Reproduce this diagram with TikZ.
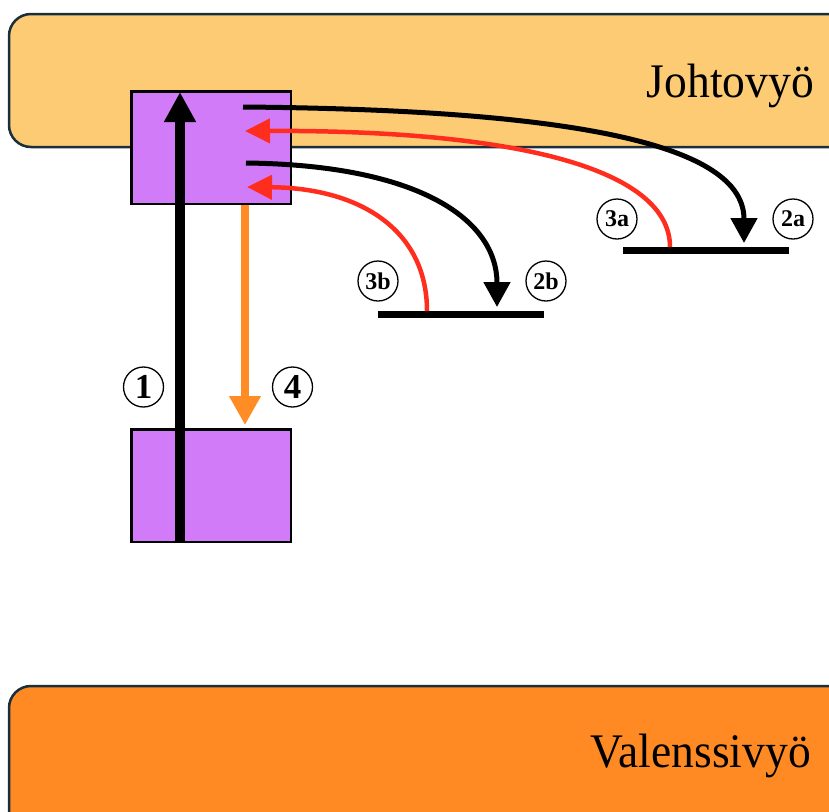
\documentclass[tikz,border=0pt]{standalone}
\usepackage{fontspec}
\usepackage{graphicx}
\setmainfont{Liberation Serif}
\usetikzlibrary{arrows.meta,calc}
\definecolor{cband}{HTML}{FDCB74}
\definecolor{vband}{HTML}{FF8A24}
\definecolor{bandedge}{HTML}{1B2E3C}
\definecolor{state}{HTML}{D17BF8}
\definecolor{relax}{HTML}{FF2D1E}
\definecolor{emit}{HTML}{FF8C24}
\newcommand{\tallish}[1]{\scalebox{1}[1.06]{#1}}
\begin{document}
\begin{tikzpicture}[x=1pt,y=-1pt,
  band/.style={draw=bandedge, line width=2.5pt, rounded corners=22pt},
  statebox/.style={draw=black, line width=2.5pt, fill=state, inner sep=0pt,
    minimum width=159.5pt, minimum height=112.5pt},
  trap/.style={line width=7pt},
  tag/.style={circle, draw, line width=1.3pt, inner sep=0pt, minimum size=40pt,
    font=\bfseries\fontsize{24}{24}\selectfont},
  bigtag/.style={tag, font=\bfseries\fontsize{35}{35}\selectfont},
  bandlabel/.style={anchor=base east, inner sep=0pt, font=\fontsize{45.5}{45}\selectfont},
  capture/.style={line width=5pt, -{Triangle[length=25pt,width=26pt]}},
  release/.style={draw=relax, line width=4.5pt, -{Triangle[length=25pt,width=24pt]}, color=relax},
]
\useasboundingbox (0,0) rectangle (829,811);

% conduction and valence bands, running past the right edge
\begin{scope}
  \clip (0,0) rectangle (829,811);
  \draw[band, fill=cband] (9,14) rectangle (870,147);
  \draw[band, fill=vband] (9,686) rectangle (870,850);
\end{scope}
\node[bandlabel] (cb) at (814,97) {\tallish{Johtovyö}};
\node[bandlabel] (vb) at (811,767) {\tallish{Valenssivyö}};

% excited and ground states
\node[statebox] (ub) at (211,147.5) {};
\node[statebox] (lb) at (211,485.5) {};

% trap levels
\coordinate (tbL) at (378,314);
\coordinate (tbR) at (544,314);
\coordinate (taL) at (623,250);
\coordinate (taR) at (789,250);
\draw[trap] (tbL) -- (tbR);
\draw[trap] (taL) -- (taR);

% 1: excitation, 4: emission
\coordinate (x1) at (180,0);
\coordinate (x4) at (245,0);
\draw[line width=10pt, -{Triangle[length=30pt,width=30pt]}]
  (x1 |- lb.south) -- ($(x1 |- ub.north)+(0,2)$);
\draw[emit, line width=8.5pt, -{Triangle[length=29pt,width=30pt]}]
  (x4 |- ub.south) -- ($(x4 |- lb.north)+(0,-3)$);

% 2a / 2b: trapping
\coordinate (s2a) at (243,107);
\coordinate (e2a) at (744,243);
\coordinate (s2b) at (246,163);
\coordinate (e2b) at (497,307);
\draw[capture] (s2a) .. controls (600,110) and (744,150) .. (e2a);
\draw[capture] (s2b) .. controls (420,165) and (497,220) .. (e2b);

% 3a / 3b: thermal release
\coordinate (s3a) at (670,247);
\coordinate (e3a) at (245,131);
\coordinate (s3b) at (427,311);
\coordinate (e3b) at (247,187);
\draw[release] (s3a) .. controls (670,170) and (520,130) .. (e3a);
\draw[release] (s3b) .. controls (427,230) and (360,188) .. (e3b);

% step labels
\node[bigtag] (n1) at (143.5,387) {1};
\node[bigtag] (n4) at (292.5,387) {4};
\node[tag] (n3b) at (378,281) {3b};
\node[tag] (n2b) at (546,281) {2b};
\node[tag] (n3a) at (617,219) {3a};
\node[tag] (n2a) at (793,219) {2a};
\end{tikzpicture}
\end{document}
